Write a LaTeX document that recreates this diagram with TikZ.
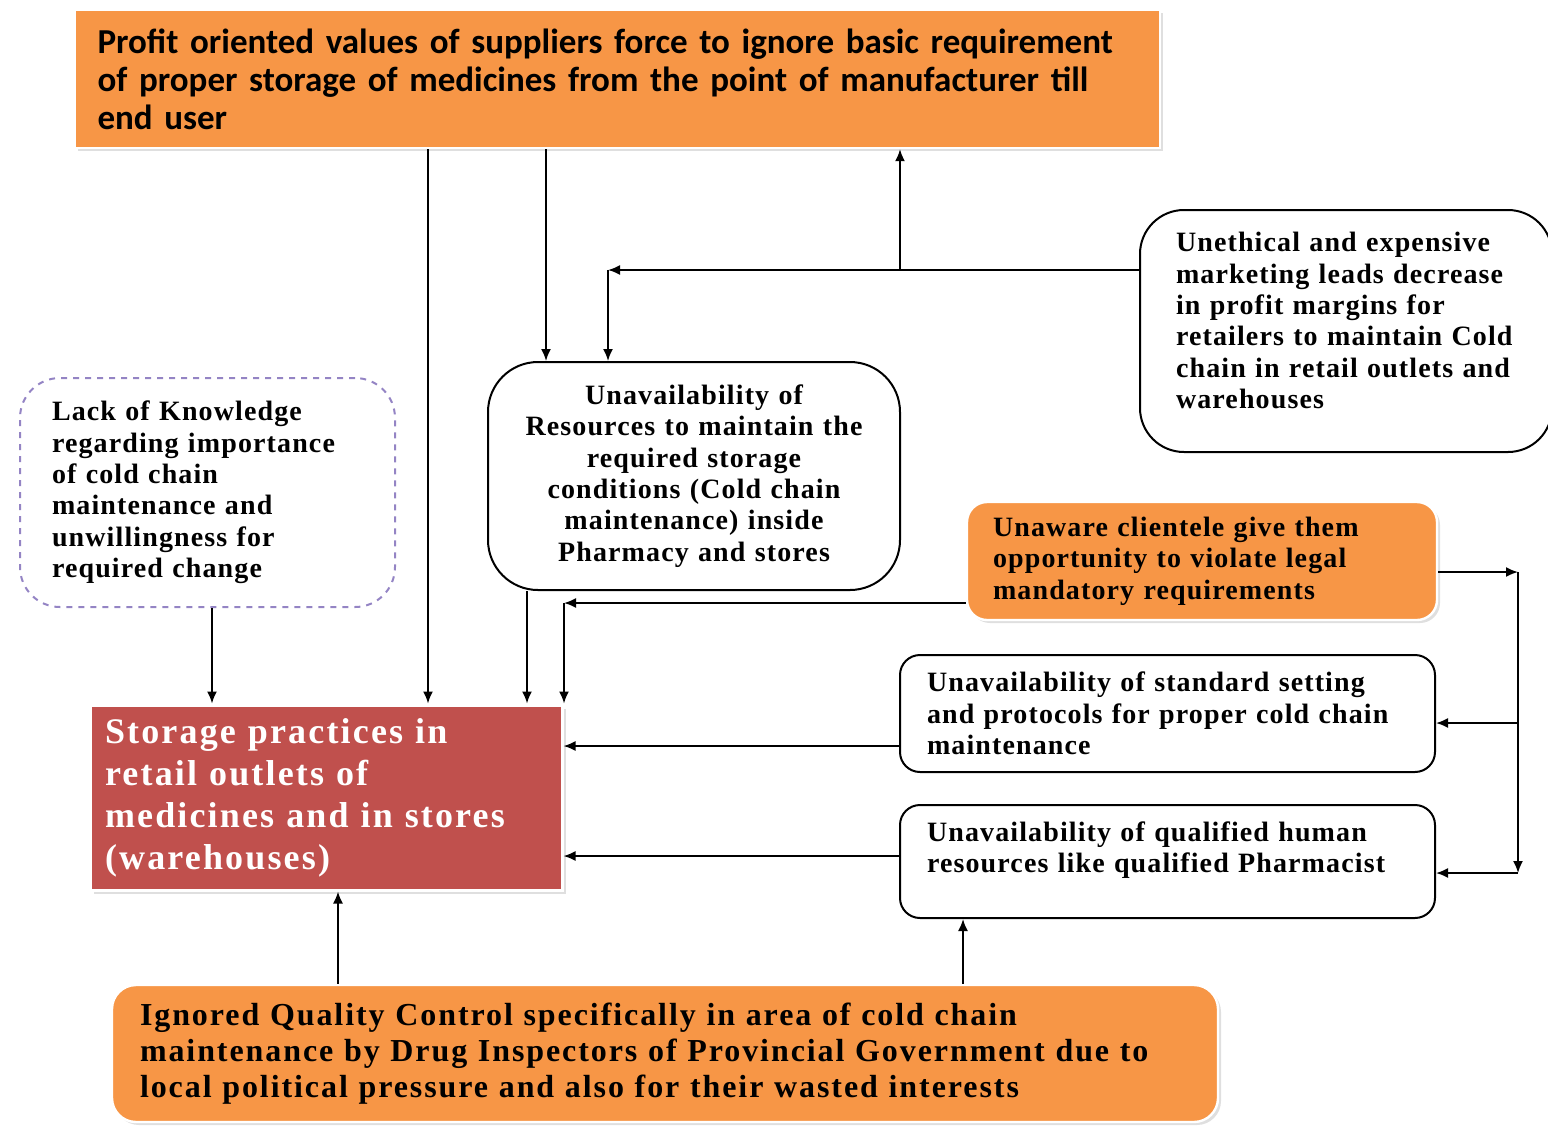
\documentclass[tikz,border=0pt]{standalone}
\usepackage{fontspec}
\setmainfont{Liberation Serif}
\newfontfamily\calibfont{Carlito}
\newfontfamily\widefont[LetterSpace=4]{Liberation Serif}
\newfontfamily\widerfont[LetterSpace=6]{Liberation Serif}
\usepackage{xcolor}
\usetikzlibrary{arrows.meta,positioning,shadows}
\definecolor{boxorange}{HTML}{F79646}
\definecolor{boxred}{HTML}{C0504D}
\definecolor{boxlav}{HTML}{9484C4}

\begin{document}
\begin{tikzpicture}[x=0.5pt,y=-0.5pt,>={Latex[length=6pt,width=5pt]},line width=0.9pt]
    \tikzstyle{ob}=[fill=boxorange,draw=white,line width=1.2pt,drop shadow={shadow xshift=1.5pt,shadow yshift=-1.5pt,fill=black!25}]
    \tikzstyle{wb}=[draw,fill=white,line width=1pt,font=\widefont\bfseries\fontsize{14}{15.7}\selectfont]
    \tikzstyle{lb}=[draw=boxlav,dashed,line width=1pt,rounded corners=20pt,font=\widefont\bfseries\fontsize{14}{15.7}\selectfont]
    \useasboundingbox (0,0) rectangle (1548,1126);
    \node[ob,minimum width=542.5pt,minimum height=69pt,text width=520pt,align=left,font=\calibfont\bfseries\fontsize{17.5}{19}\selectfont] (profit) at (617.5,79)
      {Profit oriented values of suppliers force to ignore basic requirement\\ of proper storage of medicines from the point of manufacturer till\\ end user};
    \node[wb,rounded corners=22pt,minimum width=206pt,minimum height=121pt,text width=170pt,text depth=89pt,align=left] (uneth) at (1346,331)
      {Unethical and expensive\\ marketing leads decrease\\ in profit margins for\\ retailers to maintain Cold\\ chain in retail outlets and\\ warehouses};
    \node[lb,minimum width=187.5pt,minimum height=114.5pt,text width=155.5pt,align=left] (lack) at (207.5,492.5)
      {Lack of Knowledge\\ regarding importance\\ of cold chain\\ maintenance and\\ unwillingness for\\ required change};
    \node[wb,rounded corners=25pt,minimum width=206pt,minimum height=114pt,text width=190pt,align=center] (resource) at (694,476)
      {Unavailability of\\ Resources to maintain the\\ required storage\\ conditions (Cold chain\\ maintenance) inside\\ Pharmacy and stores};
    \node[ob,rounded corners=10pt,minimum width=235pt,minimum height=59pt,text width=209pt,align=left,font=\widefont\bfseries\fontsize{14}{15.7}\selectfont] (client) at (1202,561)
      {Unaware clientele give them\\ opportunity to violate legal\\ mandatory requirements};
    \node[wb,rounded corners=10pt,minimum width=267.5pt,minimum height=58.5pt,text width=240.5pt,align=left] (standard) at (1167.5,713.5)
      {Unavailability of standard setting\\ and protocols for proper cold chain\\ maintenance};
    \node[wb,rounded corners=10pt,minimum width=267.5pt,minimum height=56.5pt,text width=240.5pt,text depth=30pt,align=left] (human) at (1167.5,861.5)
      {Unavailability of qualified human\\ resources like qualified Pharmacist};
    \node[fill=boxred,draw=white,line width=1.5pt,drop shadow={shadow xshift=2pt,shadow yshift=-2pt,fill=black!25},minimum width=236pt,minimum height=92.5pt,text width=221pt,align=left,text=white,font=\widerfont\bfseries\fontsize{18}{21}\selectfont] (store) at (326,797.5)
      {Storage practices in\\ retail outlets of\\ medicines and in stores\\ (warehouses)};
    \node[ob,rounded corners=12pt,minimum width=553pt,minimum height=68.5pt,text width=525pt,align=left,font=\widerfont\bfseries\fontsize{16}{18}\selectfont] (quality) at (665,1053.5)
      {Ignored Quality Control specifically in area of cold chain\\ maintenance by Drug Inspectors of Provincial Government due to\\ local political pressure and also for their wasted interests};
    \coordinate (m1) at (608,270);
    \coordinate (m2) at (900,270);
    \coordinate (c1) at (564,603);
    \coordinate (r1) at (1518,572);
    \coordinate (r2) at (1518,873);
    \draw[->] (profit.south -| 428,0) -- (store.north -| 428,0);
    \draw[->] (profit.south -| 546,0) -- (resource.north -| 546,0);
    \draw[->] (uneth.west |- m1) -- (m1);
    \draw[->] (m1) -- (resource.north -| m1);
    \draw[->] (m2) -- (profit.south -| m2);
    \draw[->] (lack.south -| 212,0) -- (store.north -| 212,0);
    \draw[->] (resource.south -| 527,0) -- (store.north -| 527,0);
    \draw[->] (client.west |- c1) -- (c1);
    \draw[->] (c1) -- (store.north -| c1);
    \draw[->] (client.east |- r1) -- (r1);
    \draw[->] (r1) -- (r2);
    \draw[->] (r1 |- 0,723) -- (standard.east |- 0,723);
    \draw[->] (r2) -- (human.east |- r2);
    \draw[->] (standard.west |- 0,746) -- (store.east |- 0,746);
    \draw[->] (human.west |- 0,856) -- (store.east |- 0,856);
    \draw[->] (quality.north -| 338,0) -- (store.south -| 338,0);
    \draw[->] (quality.north -| 963,0) -- (human.south -| 963,0);
\end{tikzpicture}
\end{document}
